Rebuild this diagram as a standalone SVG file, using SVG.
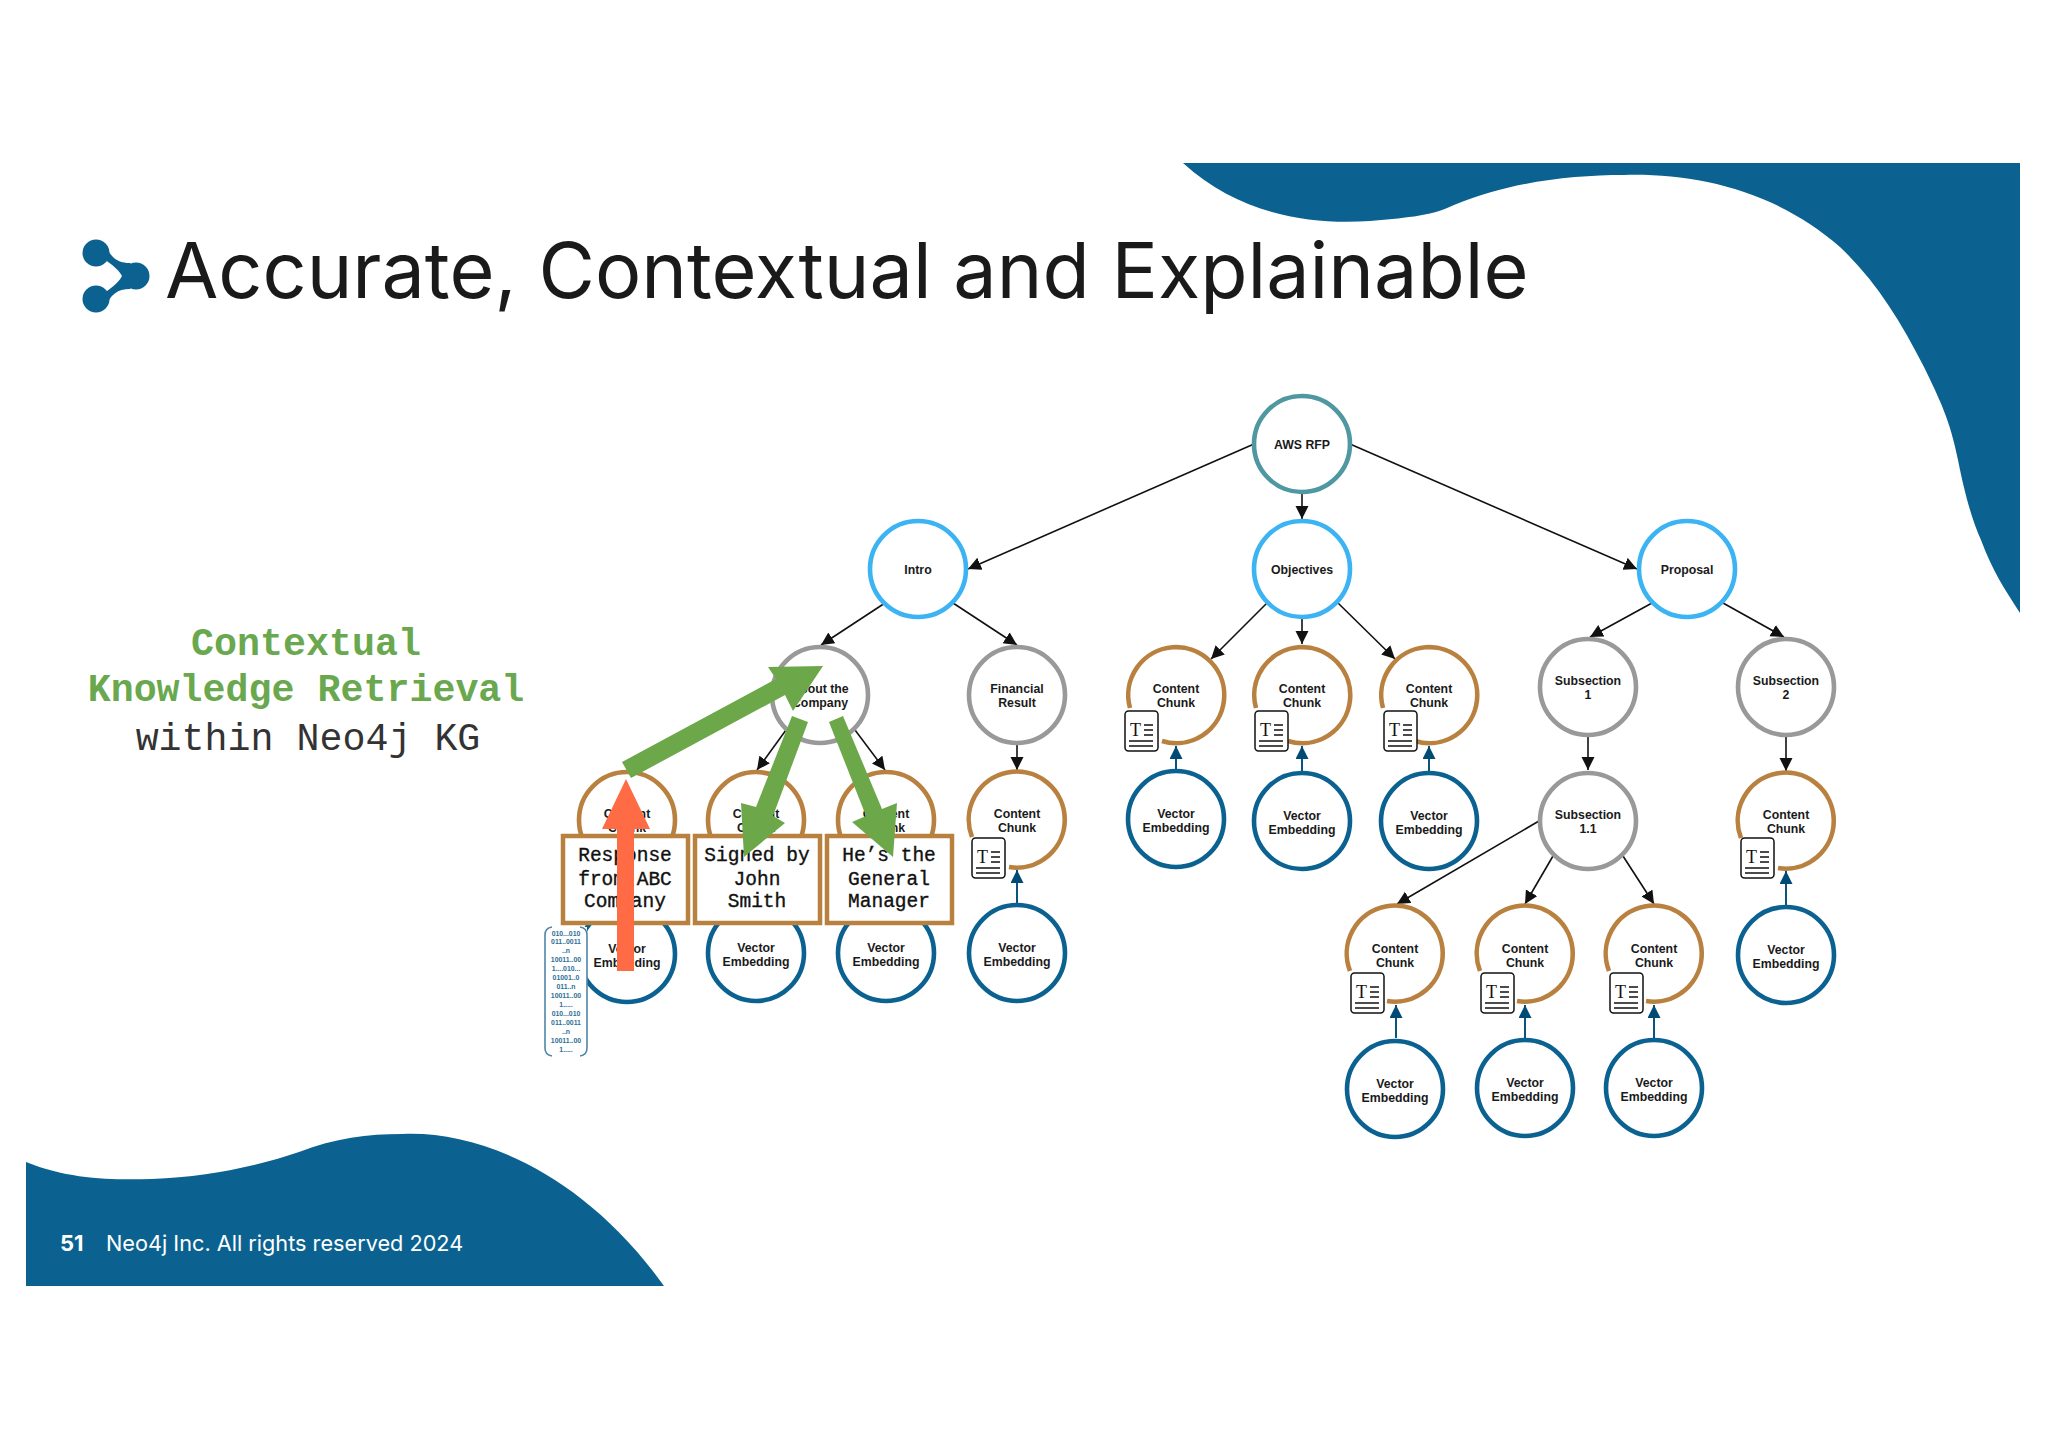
<svg xmlns="http://www.w3.org/2000/svg" width="2048" height="1448" viewBox="0 0 2048 1448">
<style>
text{font-family:"Liberation Sans",Arial,sans-serif}
.n{font-weight:700;font-size:12.3px;fill:#1a1a1a;text-anchor:middle}
.c{fill:#fff;stroke-width:4.6}
.a{fill:none;stroke:#b9813f;stroke-width:4.6}
.brown{stroke:#b9813f}.blue{stroke:#0b6291}.grey{stroke:#999}.sky{stroke:#3cb3f3}.teal{stroke:#4f98a2}
.l{stroke:#111;stroke-width:1.6;fill:none;marker-end:url(#ah)}
.v{stroke:#004b75;stroke-width:1.9;fill:none;marker-end:url(#ahv)}
.m{font-family:"Liberation Mono","Courier New",monospace;text-anchor:middle}
.h{font-size:38.3px}
.b{font-size:19.5px;fill:#111;stroke:#111;stroke-width:.35}
.box{fill:#fff;stroke:#b9813f;stroke-width:4.5}
.bin{font-weight:700;font-size:6.9px;fill:#2e7097;text-anchor:middle}
.g{fill:#6ca849}
.d{fill:none;stroke:#111;stroke-width:1.5}
</style>
<defs>
<marker id="ah" markerUnits="userSpaceOnUse" markerWidth="14" markerHeight="14" refX="13" refY="6.500" orient="auto"><path d="M0,0L13,6.500L0,13z" fill="#111"/></marker>
<marker id="ahv" markerUnits="userSpaceOnUse" markerWidth="14" markerHeight="14" refX="13" refY="6.500" orient="auto"><path d="M0,0L13,6.500L0,13z" fill="#004b75"/></marker>
<path id="arcA" class="a" d="M-14,46A48,48 0 1 0 -46,13"/>
<path id="arcB" class="a" d="M-8,47A48,48 0 1 0 -45,17"/>
<g id="doc">
<rect width="33" height="40" rx="3.500" fill="#fff" stroke="#111" stroke-width="1.500"/>
<text x="10.500" y="25" font-size="18" text-anchor="middle" fill="#111" style="font-family:'Liberation Serif',serif">T</text>
<path class="d" d="M19,14H28M19,19H28M19,24H28M4,30H28M4,35H28"/>
</g>
</defs>
<rect width="2048" height="1448" fill="#fff"/>
<path id="blob-top" fill="#0b6291" d="M1183,163H2020V613C2005,590 1992,570 1981,540C1972,520 1965,495 1958,460C1950,420 1940,400 1924,367C1900,320 1875,280 1840,247C1775,190 1695,173 1624,175C1570,175 1510,182 1454,205C1430,217 1400,218 1370,221C1310,225 1240,215 1183,163Z"/>
<path id="blob-bottom" fill="#0b6291" d="M26,1162C70,1180 115,1180 152,1179C205,1177 255,1167 299,1152C335,1138 368,1134 402,1134C480,1130 585,1175 664,1286H26Z"/>
<g id="logo" fill="#0b6291">
<path d="M105,243C110,258 118,263 130,263L140,276L130,289C118,289 110,294 105,309L96,299C108,290 118,284 122,276C118,268 108,262 96,253Z"/>
<circle cx="96" cy="253" r="13.500"/>
<circle cx="96" cy="299" r="13.500"/>
<circle cx="136" cy="276" r="13.500"/>
</g>
<text id="title" x="165" y="298" font-size="77.300" fill="#1a1a1a" style="font-family:Inter,sans-serif">Accurate, Contextual and Explainable</text>
<text class="m h" x="306" y="655" fill="#6aa84f" font-weight="700">Contextual</text>
<text class="m h" x="306" y="701" fill="#6aa84f" font-weight="700">Knowledge Retrieval</text>
<text class="m h" x="308" y="750" fill="#333">within Neo4j KG</text>
<text id="page" x="60" y="1251" font-size="22" font-weight="700" fill="#fff" style="font-family:Inter,sans-serif">51</text>
<text id="footer" x="106" y="1251" font-size="21.700" fill="#fff" style="font-family:Inter,sans-serif">Neo4j Inc. All rights reserved 2024</text>
<g id="connectors">
<path class="l" d="M1254,444L968,569"/>
<path class="l" d="M1302,493V519"/>
<path class="l" d="M1350,444L1637,569"/>
<path class="l" d="M885,603L821,645"/>
<path class="l" d="M953,603L1017,645"/>
<path class="l" d="M786,730L757,770"/>
<path class="l" d="M855,730L885,770"/>
<path class="l" d="M1017,745V770"/>
<path class="l" d="M1268,602L1211,659"/>
<path class="l" d="M1302,618V644"/>
<path class="l" d="M1337,602L1395,659"/>
<path class="l" d="M1652,603L1590,637"/>
<path class="l" d="M1723,603L1784,637"/>
<path class="l" d="M1588,736V770"/>
<path class="l" d="M1786,736V771"/>
<path class="l" d="M1539,821L1397,904"/>
<path class="l" d="M1553,856L1525,904"/>
<path class="l" d="M1623,856L1654,904"/>
<path class="v" d="M1176,770V746"/>
<path class="v" d="M1302,771V746"/>
<path class="v" d="M1429,772V746"/>
<path class="v" d="M1017,904V870"/>
<path class="v" d="M1396,1038V1005"/>
<path class="v" d="M1525,1038V1005"/>
<path class="v" d="M1654,1038V1005"/>
<path class="v" d="M1786,905V871"/>
</g>
<g id="aws" transform="translate(1302,444)"><circle class="c teal" r="48"/><text class="n" y="5">AWS RFP</text></g>
<g id="intro" transform="translate(918,569)"><circle class="c sky" r="48"/><text class="n" y="5">Intro</text></g>
<g id="objectives" transform="translate(1302,569)"><circle class="c sky" r="48"/><text class="n" y="5">Objectives</text></g>
<g id="proposal" transform="translate(1687,569)"><circle class="c sky" r="48"/><text class="n" y="5">Proposal</text></g>
<g id="about" transform="translate(820,695)"><circle class="c grey" r="48"/><text class="n" y="-2">About the</text><text class="n" y="12">Company</text></g>
<g id="financial" transform="translate(1017,695)"><circle class="c grey" r="48"/><text class="n" y="-2">Financial</text><text class="n" y="12">Result</text></g>
<g id="sub1" transform="translate(1588,687)"><circle class="c grey" r="48"/><text class="n" y="-2">Subsection</text><text class="n" y="12">1</text></g>
<g id="sub2" transform="translate(1786,687)"><circle class="c grey" r="48"/><text class="n" y="-2">Subsection</text><text class="n" y="12">2</text></g>
<g id="sub11" transform="translate(1588,821)"><circle class="c grey" r="48"/><text class="n" y="-2">Subsection</text><text class="n" y="12">1.1</text></g>
<g id="chunk-a1" transform="translate(627,820)"><circle class="c brown" r="48"/><text class="n" y="-2">Content</text><text class="n" y="12">Chunk</text></g>
<g id="chunk-a2" transform="translate(756,820)"><circle class="c brown" r="48"/><text class="n" y="-2">Content</text><text class="n" y="12">Chunk</text></g>
<g id="chunk-a3" transform="translate(886,820)"><circle class="c brown" r="48"/><text class="n" y="-2">Content</text><text class="n" y="12">Chunk</text></g>
<g id="chunk-f" transform="translate(1017,820)"><use href="#arcB"/><text class="n" y="-2">Content</text><text class="n" y="12">Chunk</text><use href="#doc" x="-45" y="18"/></g>
<g id="chunk-o1" transform="translate(1176,695)"><use href="#arcA"/><text class="n" y="-2">Content</text><text class="n" y="12">Chunk</text><use href="#doc" x="-51" y="16"/></g>
<g id="chunk-o2" transform="translate(1302,695)"><use href="#arcA"/><text class="n" y="-2">Content</text><text class="n" y="12">Chunk</text><use href="#doc" x="-47" y="16"/></g>
<g id="chunk-o3" transform="translate(1429,695)"><use href="#arcA"/><text class="n" y="-2">Content</text><text class="n" y="12">Chunk</text><use href="#doc" x="-45" y="16"/></g>
<g id="chunk-s1" transform="translate(1395,954)"><use href="#arcB"/><text class="n" y="-1">Content</text><text class="n" y="13">Chunk</text><use href="#doc" x="-44" y="19"/></g>
<g id="chunk-s2" transform="translate(1525,954)"><use href="#arcB"/><text class="n" y="-1">Content</text><text class="n" y="13">Chunk</text><use href="#doc" x="-44" y="19"/></g>
<g id="chunk-s3" transform="translate(1654,954)"><use href="#arcB"/><text class="n" y="-1">Content</text><text class="n" y="13">Chunk</text><use href="#doc" x="-44" y="19"/></g>
<g id="chunk-s4" transform="translate(1786,821)"><use href="#arcB"/><text class="n" y="-2">Content</text><text class="n" y="12">Chunk</text><use href="#doc" x="-45" y="17"/></g>
<g id="vec-a1" transform="translate(627,954)"><circle class="c blue" r="48"/><text class="n" y="-1">Vector</text><text class="n" y="13">Embedding</text></g>
<g id="vec-a2" transform="translate(756,953)"><circle class="c blue" r="48"/><text class="n" y="-1">Vector</text><text class="n" y="13">Embedding</text></g>
<g id="vec-a3" transform="translate(886,953)"><circle class="c blue" r="48"/><text class="n" y="-1">Vector</text><text class="n" y="13">Embedding</text></g>
<g id="vec-f" transform="translate(1017,953)"><circle class="c blue" r="48"/><text class="n" y="-1">Vector</text><text class="n" y="13">Embedding</text></g>
<g id="vec-o1" transform="translate(1176,819)"><circle class="c blue" r="48"/><text class="n" y="-1">Vector</text><text class="n" y="13">Embedding</text></g>
<g id="vec-o2" transform="translate(1302,821)"><circle class="c blue" r="48"/><text class="n" y="-1">Vector</text><text class="n" y="13">Embedding</text></g>
<g id="vec-o3" transform="translate(1429,821)"><circle class="c blue" r="48"/><text class="n" y="-1">Vector</text><text class="n" y="13">Embedding</text></g>
<g id="vec-s1" transform="translate(1395,1089)"><circle class="c blue" r="48"/><text class="n" y="-1">Vector</text><text class="n" y="13">Embedding</text></g>
<g id="vec-s2" transform="translate(1525,1088)"><circle class="c blue" r="48"/><text class="n" y="-1">Vector</text><text class="n" y="13">Embedding</text></g>
<g id="vec-s3" transform="translate(1654,1088)"><circle class="c blue" r="48"/><text class="n" y="-1">Vector</text><text class="n" y="13">Embedding</text></g>
<g id="vec-s4" transform="translate(1786,955)"><circle class="c blue" r="48"/><text class="n" y="-1">Vector</text><text class="n" y="13">Embedding</text></g>
<g id="binary">
<rect x="545" y="927" width="42" height="129" fill="#fff"/>
<path fill="none" stroke="#4f86a8" stroke-width="1.600" d="M552,927Q545,928 545,935V1048Q545,1055 552,1056M580,927Q587,928 587,935V1048Q587,1055 580,1056"/>
<text class="bin" x="566" y="935.500">010...010</text>
<text class="bin" x="566" y="944.400">011..0011</text>
<text class="bin" x="566" y="953.300">..n</text>
<text class="bin" x="566" y="962.200">10011..00</text>
<text class="bin" x="566" y="971.100">1....010...</text>
<text class="bin" x="566" y="980">01001..0</text>
<text class="bin" x="566" y="989">011..n</text>
<text class="bin" x="566" y="998">10011..00</text>
<text class="bin" x="566" y="1007">1.....</text>
<text class="bin" x="566" y="1016">010...010</text>
<text class="bin" x="566" y="1025">011..0011</text>
<text class="bin" x="566" y="1034">..n</text>
<text class="bin" x="566" y="1043">10011..00</text>
<text class="bin" x="566" y="1052">1.....</text>
</g>
<g id="box1"><rect class="box" x="563" y="836" width="125" height="87"/><text class="m b" x="625" y="861">Response</text><text class="m b" x="625" y="885">from ABC</text><text class="m b" x="625" y="907">Company</text></g>
<g id="box2"><rect class="box" x="695" y="836" width="125" height="87"/><text class="m b" x="757" y="861">Signed by</text><text class="m b" x="757" y="885">John</text><text class="m b" x="757" y="907">Smith</text></g>
<g id="box3"><rect class="box" x="827" y="836" width="125" height="87"/><text class="m b" x="889" y="861">He’s the</text><text class="m b" x="889" y="885">General</text><text class="m b" x="889" y="907">Manager</text></g>
<polygon id="arrow-red" fill="#ff6b45" points="617,971 617,829 602,829 626,779 650,829 634,829 634,971"/>
<polygon id="arrow-g1" class="g" points="622,762 631,778 785,695 793,711 823,666 768,667 776,679"/>
<polygon id="arrow-g2" class="g" points="792,716 808,722 773,816 785,823 744,857 741,803 756,807"/>
<polygon id="arrow-g3" class="g" points="829,722 843,716 882,809 897,803 893,857 852,822 866,816"/>
</svg>
